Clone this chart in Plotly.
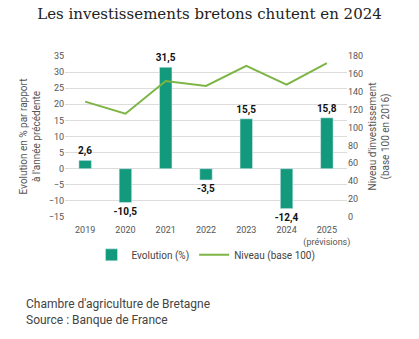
import plotly.graph_objects as go

years = ["2019", "2020", "2021", "2022", "2023", "2024", "2025"]
year_labels = ["2019", "2020", "2021", "2022", "2023", "2024", "2025<br>(prévisions)"]
evolution = [2.6, -10.5, 31.5, -3.5, 15.5, -12.4, 15.8]
niveau = [129, 115.5, 152, 146.5, 169, 148, 172]

bar_color = "#139a7c"
line_color = "#7db545"
tick_font = dict(family="Roboto, sans-serif", size=9, color="#555")

fig = go.Figure()
fig.add_trace(go.Bar(
    x=years, y=evolution, name="Evolution (%)",
    marker_color=bar_color, width=0.31,
    text=[str(v).replace(".", ",") for v in evolution],
    textposition="outside", cliponaxis=False, constraintext="none",
    textfont=dict(family="Roboto, sans-serif", size=10, color="#111", weight="bold"),
))
fig.add_trace(go.Scatter(
    x=years, y=niveau, name="Niveau (base 100)", yaxis="y2",
    mode="lines", line=dict(color=line_color, width=2),
))

fig.update_layout(
    width=419, height=339,
    margin=dict(l=65, r=72, t=56, b=122),
    paper_bgcolor="white", plot_bgcolor="white",
    title=dict(text="Les investissements bretons chutent en 2024", x=0.5, xanchor="center",
               y=0.96, yanchor="middle",
               font=dict(family="DejaVu Serif, serif", size=15, color="#222")),
    xaxis=dict(tickmode="array", tickvals=years, ticktext=year_labels,
               tickfont=tick_font, showgrid=False, showline=False, ticks="",
               ticklabelstandoff=6),
    yaxis=dict(range=[-15, 35], dtick=5, tick0=-15, tickfont=tick_font,
               showgrid=True, gridcolor="#dcdcdc", gridwidth=1, zeroline=False,
               title=dict(text="Evolution en % par rapport<br>à l'année précédente",
                          font=dict(family="Roboto, sans-serif", size=10, color="#555"),
                          standoff=6)),
    yaxis2=dict(range=[0, 180], dtick=20, overlaying="y", side="right", tickfont=tick_font,
                showgrid=False, zeroline=False,
                title=dict(text="Niveau d'investissement<br>(base 100 en 2016)",
                           font=dict(family="Roboto, sans-serif", size=10, color="#555"),
                           standoff=6)),
    legend=dict(orientation="h", x=0.5, xanchor="center", y=-0.235, yanchor="middle",
                bgcolor="rgba(0,0,0,0)",
                font=dict(family="Roboto, sans-serif", size=10, color="#444"),
                itemwidth=30),
    showlegend=True,
)

fig.add_annotation(text="Chambre d'agriculture de Bretagne<br>Source : Banque de France",
                   xref="paper", yref="paper", x=-0.147, y=-0.485, xanchor="left", yanchor="top",
                   align="left", showarrow=False,
                   font=dict(family="Roboto, sans-serif", size=12, color="#444"))

fig.write_html("out.html")
